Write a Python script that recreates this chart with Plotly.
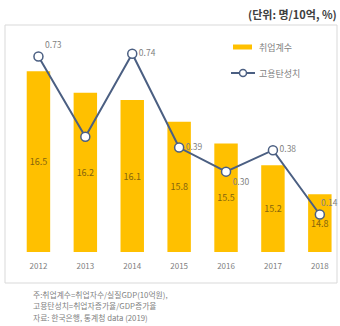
import plotly.graph_objects as go

years = ["2012", "2013", "2014", "2015", "2016", "2017", "2018"]
emp_coef = [16.5, 16.2, 16.1, 15.8, 15.5, 15.2, 14.8]          # 취업계수 (명/10억)
elasticity = [0.73, 0.43, 0.74, 0.39, 0.30, 0.38, 0.14]        # 고용탄성치 (%)
elast_labels = ["0.73", "", "0.74", "0.39", "0.30", "0.38", ""]
label_pos = ["top right", "middle right", "middle right", "middle right",
             "bottom right", "middle right", "top right"]

BAR_AXIS_MIN = 14.0
BAR = "#FFC000"
LINE = "#4B5F82"
FONT = "Noto Sans CJK KR"

W, H = 340, 326
ML, MR, MT, MB = 15, 0, 35, 74
PW, PH = W - ML - MR, H - MT - MB


def px(x):
    return (x - ML) / PW


def py(y):
    return (H - MB - y) / PH


fig = go.Figure()

# bars start at the axis floor so the value labels sit in the visible part
fig.add_trace(go.Bar(
    x=years, y=[v - BAR_AXIS_MIN for v in emp_coef], base=BAR_AXIS_MIN,
    width=0.5, marker=dict(color=BAR, line=dict(width=0)),
    text=[f"{v:.1f}" for v in emp_coef], textposition="inside",
    insidetextanchor="middle", textangle=0,
    textfont=dict(family=FONT, size=9, color="#85650E"),
    name="취업계수", showlegend=False, hoverinfo="skip",
))

fig.add_trace(go.Scatter(
    x=years, y=elasticity, yaxis="y2", mode="lines+markers+text",
    line=dict(color=LINE, width=2),
    marker=dict(symbol="circle", size=9, color="white",
                line=dict(color=LINE, width=1.5)),
    text=elast_labels, textposition=label_pos,
    textfont=dict(family=FONT, size=8.5, color="#7F7F7F"),
    name="고용탄성치", showlegend=False, hoverinfo="skip", cliponaxis=False,
))

shapes = [
    # outer frame around the chart body
    dict(type="rect", xref="paper", yref="paper",
         x0=px(5), x1=px(337), y0=py(283), y1=py(25),
         line=dict(color="#D9D9D9", width=1), fillcolor="rgba(0,0,0,0)",
         layer="below"),
    # legend swatches
    dict(type="line", xref="paper", yref="paper",
         x0=px(233), x1=px(252), y0=py(47), y1=py(47),
         line=dict(color=BAR, width=5)),
    dict(type="line", xref="paper", yref="paper",
         x0=px(231), x1=px(255), y0=py(73), y1=py(73),
         line=dict(color=LINE, width=2)),
    dict(type="circle", xref="paper", yref="paper",
         x0=px(239.5), x1=px(246.5), y0=py(76.5), y1=py(69.5),
         line=dict(color=LINE, width=1.5), fillcolor="white"),
]

annotations = [
    # last elasticity label, kept inside the right edge
    dict(text=f"{elasticity[-1]:.2f}", xref="paper", yref="y2", x=1.0,
         y=elasticity[-1], xanchor="right", yanchor="bottom", yshift=4,
         showarrow=False, font=dict(family=FONT, size=8.5, color="#7F7F7F")),
    dict(text="취업계수", xref="paper", yref="paper", x=px(257), y=py(47),
         xanchor="left", yanchor="middle", showarrow=False,
         font=dict(family=FONT, size=9, color="#7F7F7F")),
    dict(text="고용탄성치", xref="paper", yref="paper", x=px(257), y=py(73),
         xanchor="left", yanchor="middle", showarrow=False,
         font=dict(family=FONT, size=9, color="#7F7F7F")),
    dict(text="<b>(단위: 명/10억, %)</b>", xref="paper", yref="paper",
         x=px(339), y=py(14), xanchor="right", yanchor="middle",
         showarrow=False, font=dict(family=FONT, size=11, color="#404040")),
]

notes = [
    "주:취업계수=취업자수/실질GDP(10억원),",
    "고용탄성치=취업자증가율/GDP증가율",
    "자료: 한국은행, 통계청 data (2019)",
]
for i, line in enumerate(notes):
    annotations.append(dict(
        text=line, xref="paper", yref="paper", x=px(31), y=py(294 + i * 11.5),
        xanchor="left", yanchor="middle", showarrow=False,
        font=dict(family=FONT, size=7.8, color="#7F7F7F")))

fig.update_layout(
    width=W, height=H,
    margin=dict(l=ML, r=MR, t=MT, b=MB),
    paper_bgcolor="white", plot_bgcolor="white",
    bargap=0.5,
    xaxis=dict(type="category", range=[-0.5, 6.43], showgrid=False,
               showline=False, ticks="", zeroline=False, ticklabelstandoff=8,
               tickfont=dict(family=FONT, size=8, color="#808080")),
    yaxis=dict(range=[BAR_AXIS_MIN, 17], visible=False, showgrid=False),
    yaxis2=dict(range=[0, 0.81], overlaying="y", side="right",
                visible=False, showgrid=False),
    shapes=shapes, annotations=annotations,
    showlegend=False,
)

fig.write_html("out.html")
